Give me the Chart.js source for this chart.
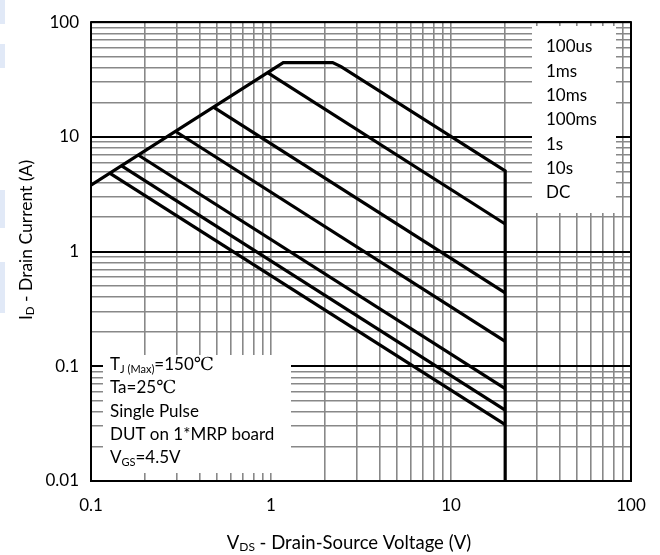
<!DOCTYPE html>
<html>
<head>
<meta charset="utf-8">
<script src="https://cdn.jsdelivr.net/npm/chart.js@4/dist/chart.umd.min.js"></script>
<style>
  html, body { margin: 0; padding: 0; background: #fff; }
  #wrap { width: 660px; height: 555px; position: relative; }
</style>
</head>
<body>
<div id="wrap"><canvas id="soa" width="660" height="555"></canvas></div>
<script>
// Safe operating area: drain current vs drain-source voltage, log-log
const FONT = 'Lato, "Open Sans", sans-serif';
const SERIF = '"DejaVu Serif", "Liberation Serif", serif';

const xDecades = [0.1, 1, 10, 100];
const yDecades = [0.01, 0.1, 1, 10, 100];
const xTickLabels = ['0.1', '1', '10', '100'];
const yTickLabels = ['0.01', '0.1', '1', '10', '100'];
const gridSteps = [1, 2, 3, 4, 5, 6, 7, 8, 9];

// Outer boundary: RDS(on) limit, package limit, 100us power limit, BVDSS at 20 V
const limitV = [0.1, 1.17, 2.2, 2.45, 20, 20];
const limitI = [3.8, 44.5, 44.5, 41, 5.05, 0.01];
// Pulse-width power limits (start on RDS(on) line, end at 20 V)
const ms1V = [0.957, 20],  ms1I = [36.4, 1.74];
const ms10V = [0.479, 20], ms10I = [18.2, 0.436];
const ms100V = [0.294, 20], ms100I = [11.2, 0.165];
const s1V = [0.183, 20],   s1I = [6.95, 0.064];
const s10V = [0.148, 20],  s10I = [5.6, 0.0415];
const dcV = [0.127, 20],   dcI = [4.83, 0.031];

const legendLabels = ['100us', '1ms', '10ms', '100ms', '1s', '10s', 'DC'];

const zip = (xs, ys) => xs.map((x, i) => ({ x, y: ys[i] }));
const isDecade = v => Math.abs(Math.log10(v) - Math.round(Math.log10(v))) < 1e-9;
const gridValues = decades => {
  const out = [];
  decades.forEach((d, i) => {
    if (i === decades.length - 1) { out.push(d); return; }
    gridSteps.forEach(m => out.push(+(d * m).toPrecision(6)));
  });
  return out;
};
const labelFor = (decades, labels) => v => {
  const i = decades.findIndex(d => Math.abs(d - v) / d < 1e-6);
  return i >= 0 ? labels[i] : '';
};

const curve = (xs, ys) => ({
  data: zip(xs, ys),
  showLine: true,
  borderColor: '#000',
  borderWidth: 3.2,
  pointRadius: 0,
  fill: false,
  tension: 0,
  borderJoinStyle: 'miter',
  borderCapStyle: 'butt'
});

// Draws a sequence of text runs (with subscript offsets) starting at x
function drawRuns(ctx, x, y, runs) {
  let cx = x;
  runs.forEach(r => {
    ctx.font = `${r.size}px ${r.family || FONT}`;
    ctx.fillText(r.t, cx, y + (r.dy || 0));
    cx += ctx.measureText(r.t).width;
  });
  return cx - x;
}
function runsWidth(ctx, runs) {
  let w = 0;
  runs.forEach(r => {
    ctx.font = `${r.size}px ${r.family || FONT}`;
    w += ctx.measureText(r.t).width;
  });
  return w;
}

const decor = {
  id: 'decor',
  beforeDraw(chart) {
    // pale strip along the left page edge
    const ctx = chart.ctx;
    ctx.save();
    ctx.fillStyle = '#e1e9f7';
    [[0, 24], [44, 68], [190, 228], [262, 313]].forEach(([a, b]) => ctx.fillRect(0, a, 5, b - a));
    ctx.restore();
  },
  beforeDatasetsDraw(chart) {
    const ctx = chart.ctx;
    ctx.save();
    ctx.fillStyle = '#fff';
    ctx.fillRect(532, 26, 84, 187);   // pulse-width key
    ctx.fillRect(103, 355, 188, 118); // test conditions
    ctx.restore();
  },
  afterDraw(chart) {
    const ctx = chart.ctx;
    const a = chart.chartArea;
    ctx.save();
    ctx.strokeStyle = '#000';
    ctx.lineWidth = 2;
    ctx.strokeRect(a.left, a.top, a.right - a.left, a.bottom - a.top);

    ctx.fillStyle = '#000';
    ctx.textBaseline = 'middle';
    ctx.textAlign = 'left';

    // pulse-width key
    ctx.font = `17px ${FONT}`;
    legendLabels.forEach((t, i) => ctx.fillText(t, 546, 47 + i * 24.3));

    // test conditions
    const L = 110, sz = 17;
    drawRuns(ctx, L, 365, [
      { t: 'T', size: sz }, { t: 'J (Max)', size: 11, dy: 4 },
      { t: '=150', size: sz }, { t: '℃', size: 18, family: SERIF }
    ]);
    drawRuns(ctx, L, 388, [{ t: 'Ta=25', size: sz }, { t: '℃', size: 18, family: SERIF }]);
    drawRuns(ctx, L, 411.5, [{ t: 'Single Pulse', size: sz }]);
    drawRuns(ctx, L, 435, [{ t: 'DUT on 1*MRP board', size: sz }]);
    drawRuns(ctx, L, 458, [{ t: 'V', size: sz }, { t: 'GS', size: 11, dy: 4 }, { t: '=4.5V', size: sz }]);

    // axis titles
    const xt = [
      { t: 'V', size: 18.5 }, { t: 'DS', size: 12, dy: 4 },
      { t: ' - Drain-Source Voltage (V)', size: 18.5 }
    ];
    drawRuns(ctx, 349 - runsWidth(ctx, xt) / 2, 543, xt);

    const yt = [
      { t: 'I', size: 17.5 }, { t: 'D', size: 11.5, dy: 4 },
      { t: ' - Drain Current (A)', size: 17.5 }
    ];
    ctx.translate(26, 240);
    ctx.rotate(-Math.PI / 2);
    drawRuns(ctx, -runsWidth(ctx, yt) / 2, 0, yt);
    ctx.restore();
  }
};

new Chart(document.getElementById('soa'), {
  type: 'scatter',
  data: {
    datasets: [
      curve(limitV, limitI),
      curve(ms1V, ms1I),
      curve(ms10V, ms10I),
      curve(ms100V, ms100I),
      curve(s1V, s1I),
      curve(s10V, s10I),
      curve(dcV, dcI)
    ]
  },
  options: {
    responsive: false,
    animation: false,
    devicePixelRatio: 1,
    layout: { padding: { top: 15, right: 29, left: 0, bottom: 0 } },
    plugins: { legend: { display: false }, tooltip: { enabled: false } },
    scales: {
      x: {
        type: 'logarithmic',
        position: 'bottom',
        min: 0.1,
        max: 100,
        afterBuildTicks: s => { s.ticks = gridValues(xDecades).map(v => ({ value: v })); },
        afterFit: s => { s.height = 74; },
        border: { display: false },
        grid: { color: '#888', lineWidth: 1.6, drawTicks: false },
        ticks: {
          autoSkip: false, maxRotation: 0, padding: 14, color: '#000',
          font: { family: FONT, size: 17 },
          callback: labelFor(xDecades, xTickLabels)
        }
      },
      y: {
        type: 'logarithmic',
        position: 'left',
        min: 0.01,
        max: 100,
        afterBuildTicks: s => { s.ticks = gridValues(yDecades).map(v => ({ value: v })); },
        afterFit: s => { s.width = 91; },
        border: { display: false },
        grid: {
          color: c => (c.tick && isDecade(c.tick.value)) ? '#000' : '#888',
          lineWidth: c => (c.tick && isDecade(c.tick.value)) ? 2 : 1.6,
          drawTicks: false
        },
        ticks: {
          autoSkip: false, padding: 12, color: '#000',
          font: { family: FONT, size: 17 },
          callback: labelFor(yDecades, yTickLabels)
        }
      }
    }
  },
  plugins: [decor]
});
</script>
</body>
</html>
